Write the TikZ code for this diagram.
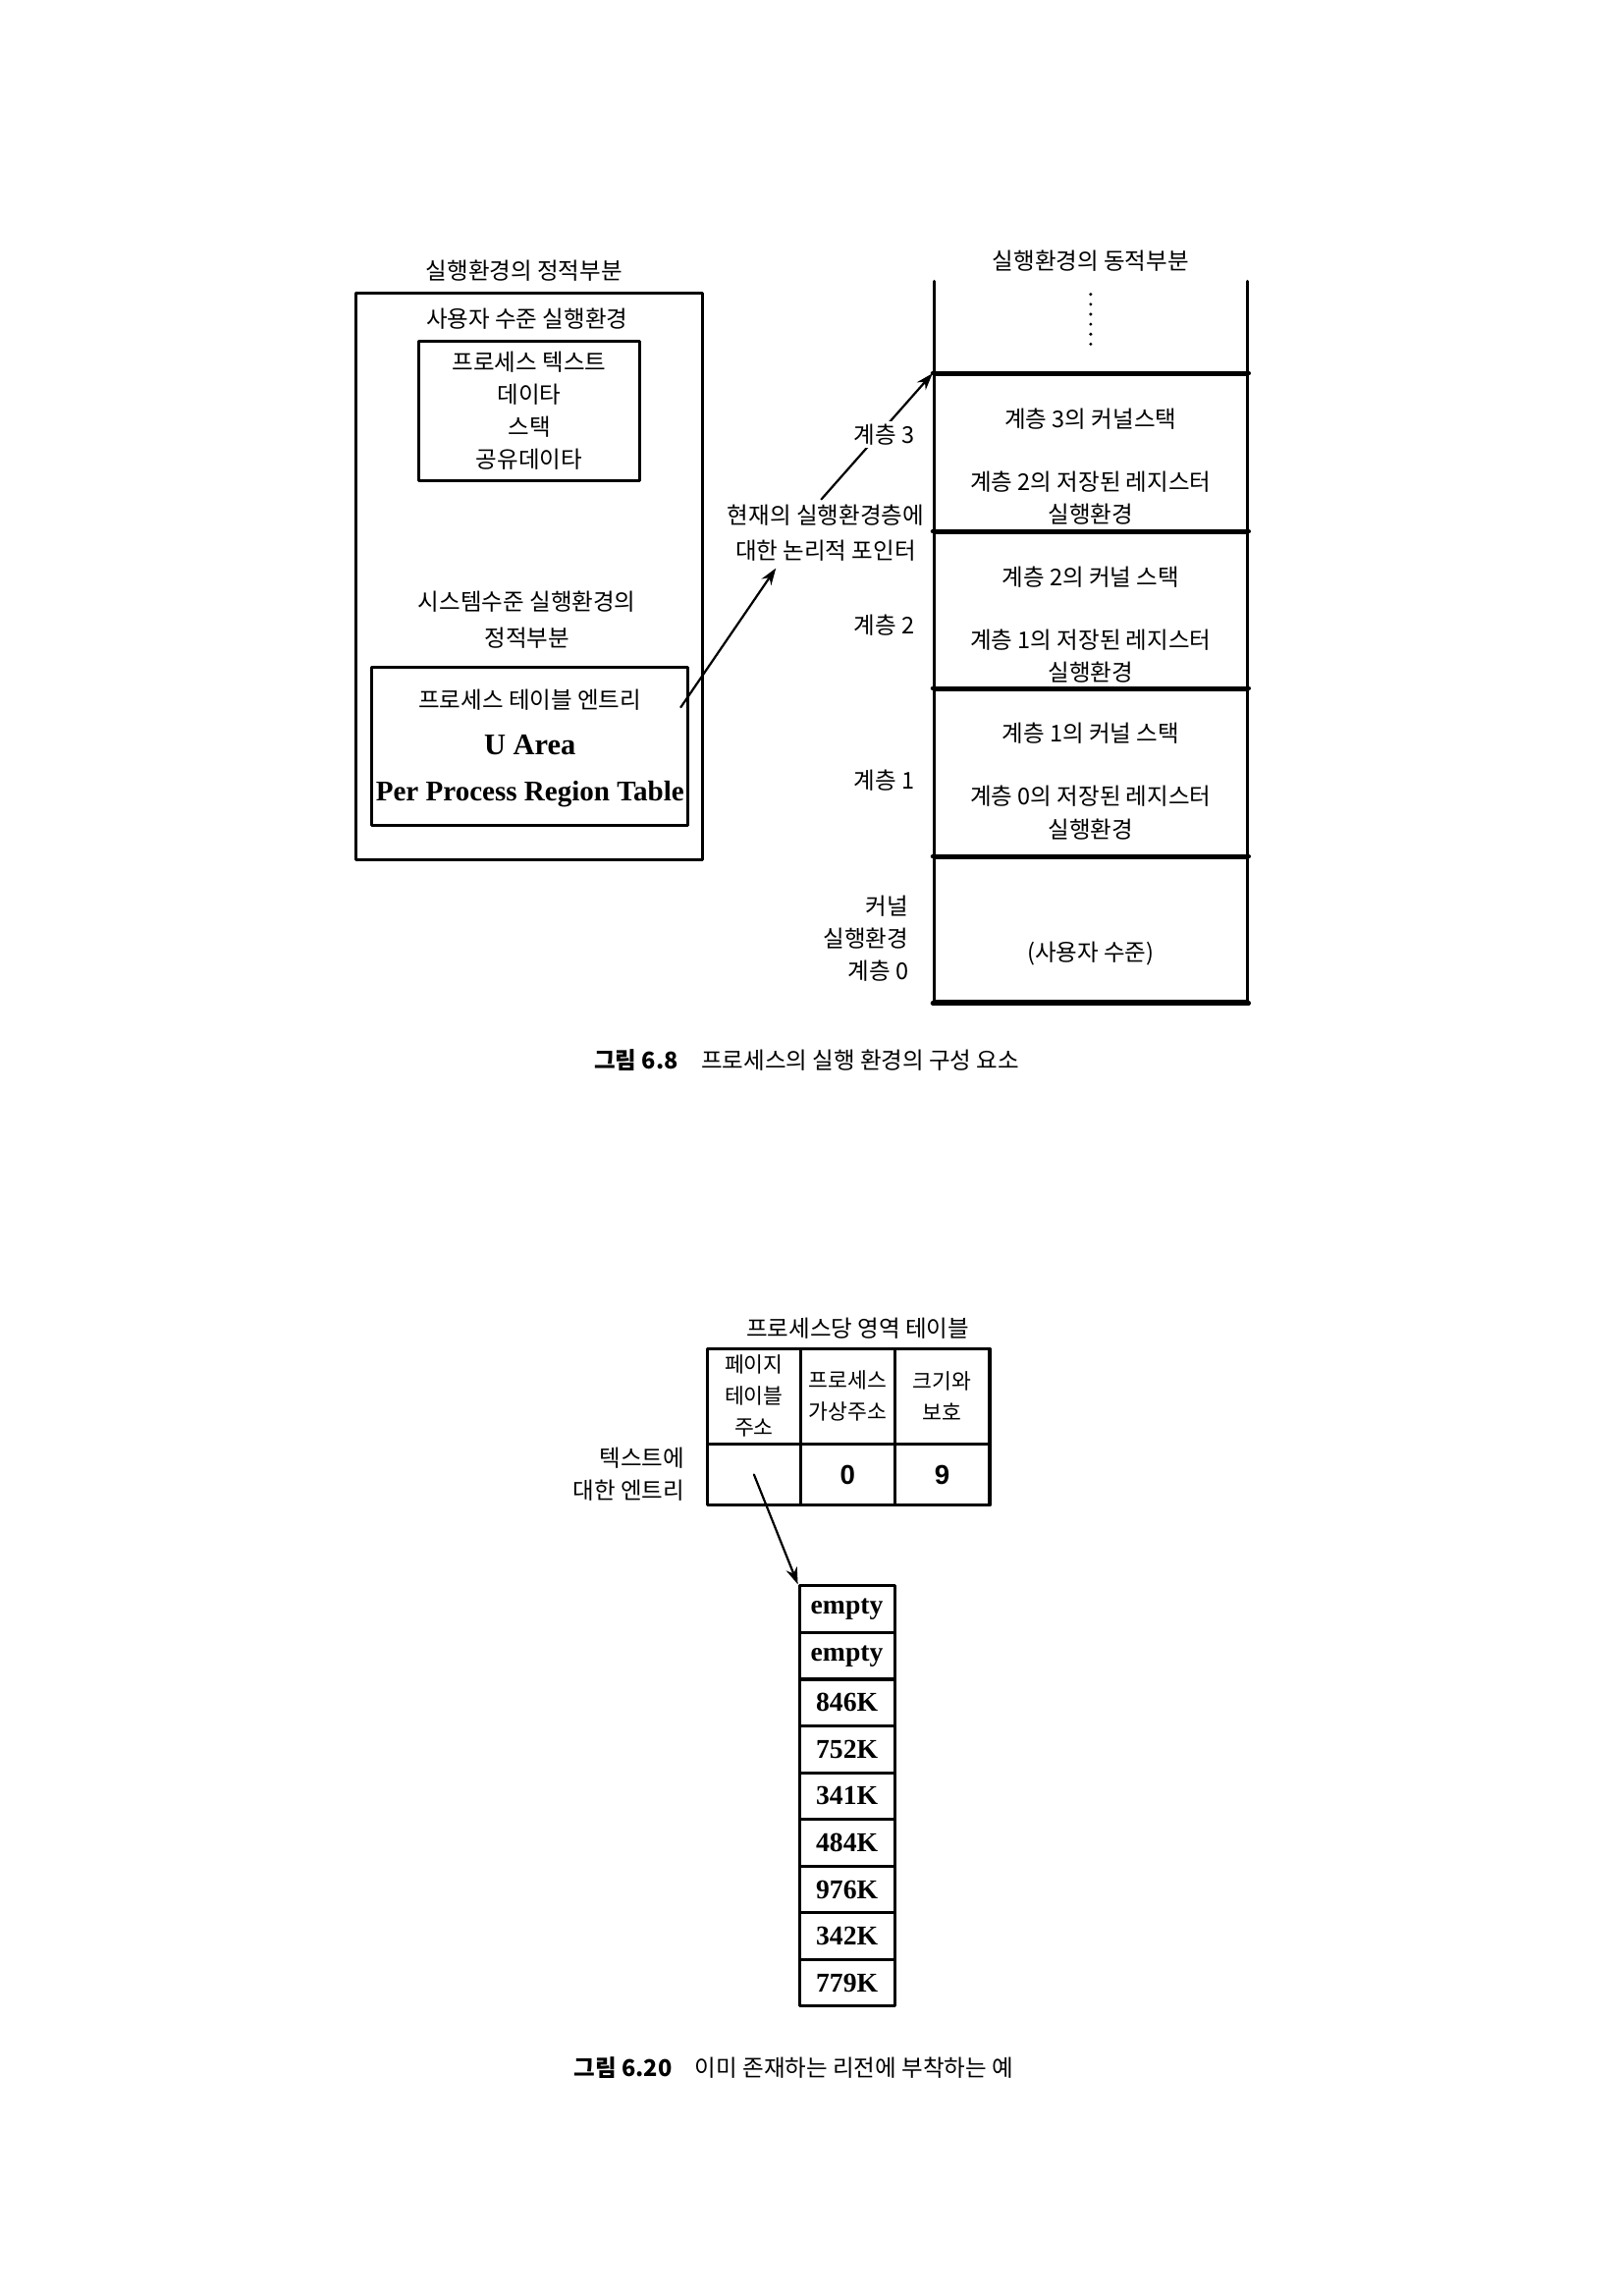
\documentclass[tikz,border=0pt]{standalone}
\usepackage{fontspec}
\setmainfont{Liberation Serif}
\setsansfont{Liberation Sans}
\newfontfamily\kr{Noto Sans CJK KR}
\usetikzlibrary{arrows.meta,fit}
\newcommand\krtext{\kr\fontsize{8.5}{12}\selectfont}
\newcommand\krtable{\kr\fontsize{7.8}{11.6}\selectfont}
\tikzset{
  every picture/.append style={line cap=round,line join=round},
  env box/.style={draw,line width=1.1pt,inner sep=0pt},
  env text/.style={font=\krtext,align=center},
  env latin/.style={font=\bfseries\fontsize{10.5}{12}\selectfont},
  env arrow/.style={line width=0.8pt,-{Stealth[length=2.2mm,width=1.5mm]}},
  stack cell/.style={draw,line width=1.1pt,inner sep=0pt},
  stack rule/.style={line width=1.5pt},
  tbl cell/.style={draw,line width=1.1pt,inner sep=0pt},
  tbl text/.style={font=\krtable,align=center,inner sep=0pt},
  tbl num/.style={font=\sffamily\bfseries\fontsize{10}{12}\selectfont},
  list cell/.style={draw,line width=1.1pt,inner sep=0pt},
  list text/.style={font=\bfseries\fontsize{10}{12}\selectfont,inner sep=0pt},
  fig caption/.style={font=\krtext}
}
\begin{document}
\begin{tikzpicture}[x=0.18937mm,y=-0.18937mm]
  \useasboundingbox (0,0) rectangle (1109,1568);

  % static part of the context
  \node[env text] (stattitle) at (358,185) {실행환경의 정적부분};
  \node[env box,fit={(243,200) (480,587)}] (static) {};
  \node[env text] (userlvl) at (360,218) {사용자 수준 실행환경};
  \node[env box,fit={(286,233) (437,328)}] (userctx) {};
  \node[env text] (userctxtext) at (userctx.center) {프로세스 텍스트\\데이타\\스택\\공유데이타};
  \node[env text] (syslvl) at (360,423.5) {시스템수준 실행환경의\\[1.5pt]정적부분};
  \node[env box,fit={(254,456) (470,564)}] (uarea) {};
  \node[env text] (ptentry) at (362,478) {프로세스 테이블 엔트리};
  \node[env latin,font=\bfseries\fontsize{11}{12}\selectfont] (ualabel) at (362,509) {U Area};
  \node[env latin] (pprt) at (362,542) {Per Process Region Table};

  % dynamic part
  \node[env text] (dyntitle) at (745,178) {실행환경의 동적부분};
  \draw[line width=1.1pt] (638,192) -- (638,256) (852,192) -- (852,256);
  \foreach \d in {0,...,5}
    \fill (745,{201+6.8*\d}) circle (0.6pt);
  \foreach \n/\ya/\yb/\ks in {3/256/364/커널스택,2/364/471/커널 스택,1/471/586/커널 스택} {
    \pgfmathtruncatemacro\m{\n-1}
    \node[stack cell,fit={(638,\ya) (852,\yb)}] (lay\n) {};
    \draw[stack rule] (lay\n.north west) -- (lay\n.north east);
    \node[env text] (kst\n) at (745,{\ya+30}) {계층 \n{}의 \ks};
    \node[env text] (reg\n) at (745,{\ya+84}) {계층 \m{}의 저장된 레지스터\\실행환경};
  }
  \node[stack cell,fit={(638,586) (852,684)}] (lay0) {};
  \draw[stack rule] (lay0.north west) -- (lay0.north east) (lay0.south west) -- (lay0.south east);
  \node[env text] (usr0) at (745,651) {(사용자 수준)};

  \node[env text] (ptr) at (564,364) {현재의 실행환경층에\\[1pt]대한 논리적 포인터};
  \coordinate (ptrfrom) at (465,483);
  \coordinate (ptrin) at (530,388);
  \coordinate (ptrout) at (561,341);
  \draw[env arrow] (ptrfrom) -- (ptrin);
  \draw[env arrow] (ptrout) -- (lay3.north west);

  \foreach \n/\y in {3/297,2/427,1/533}
    \node[env text,anchor=east,fill=white,inner sep=1pt] (lvl\n) at (627,\y) {계층 \n};
  \node[env text,anchor=east,align=right] (lvl0) at (627,641) {커널\\실행환경\\계층 0};

  \node[fig caption] (cap1) at (551,724) {{\bfseries 그림 6.8}\quad 프로세스의 실행 환경의 구성 요소};

  % per process region table
  \node[env text] (prtitle) at (586,907) {프로세스당 영역 테이블};
  \node[tbl cell,fit={(483,921) (547,986)}] (hpt) {};
  \node[tbl cell,fit={(547,921) (611,986)}] (hva) {};
  \node[tbl cell,fit={(611,921) (676,986)}] (hsz) {};
  \node[tbl cell,fit={(483,986) (547,1028)}] (ept) {};
  \node[tbl cell,fit={(547,986) (611,1028)}] (eva) {};
  \node[tbl cell,fit={(611,986) (676,1028)}] (esz) {};
  \node[tbl text] (hpttext) at (hpt.center) {페이지\\테이블\\주소};
  \node[tbl text] (hvatext) at (hva.center) {프로세스\\가상주소};
  \node[tbl text] (hsztext) at (hsz.center) {크기와\\보호};
  \node[tbl num] (evatext) at (eva.center) {0};
  \node[tbl num] (esztext) at (esz.center) {9};
  \node[env text,anchor=east,align=right] (txtent) at (474,1007) {텍스트에\\대한 엔트리};

  \foreach \v [count=\i from 0] in {empty,empty,846K,752K,341K,484K,976K,342K,779K} {
    \node[list cell,fit={(546,{1083+31.9*\i}) (611,{1114.9+31.9*\i})}] (pte\i) {};
    \node[list text] (ptetext\i) at (pte\i.center) {\v};
  }
  \draw[env arrow] (ept.center) -- (pte0.north west);

  \node[fig caption] (cap2) at (542,1412) {{\bfseries 그림 6.20}\quad 이미 존재하는 리전에 부착하는 예};
\end{tikzpicture}
\end{document}
